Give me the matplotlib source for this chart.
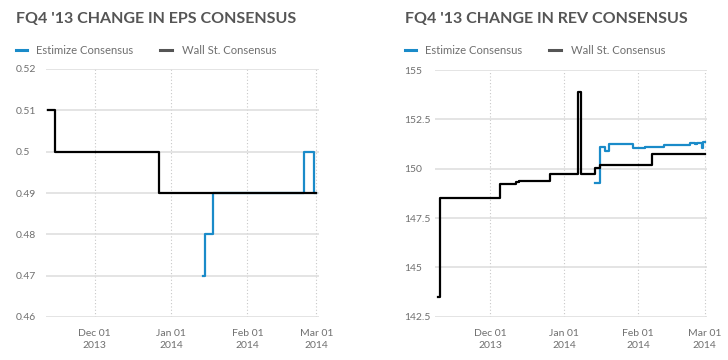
import pandas as pd
import matplotlib
matplotlib.use("Agg")
import matplotlib.pyplot as plt
import matplotlib.dates as mdates
from matplotlib.lines import Line2D

plt.rcParams['font.family'] = ['Lato', 'DejaVu Sans']

# --- Dados ---
eps_wall_dates = ['2013-11-12', '2013-11-15', '2013-12-27', '2014-03-01']
eps_wall_vals = [0.51, 0.50, 0.49, 0.49]

eps_est_dates = ['2014-01-14', '2014-01-15', '2014-01-18', '2014-02-24', '2014-02-28', '2014-03-01']
eps_est_vals = [0.47, 0.48, 0.49, 0.50, 0.49, 0.49]

rev_wall_dates = ['2013-11-09', '2013-11-10', '2013-12-05', '2013-12-12', '2013-12-13', '2013-12-26',
                  '2014-01-07', '2014-01-08', '2014-01-14', '2014-01-16', '2014-02-07', '2014-03-01']
rev_wall_vals = [143.5, 148.52, 149.24, 149.33, 149.39, 149.73,
                 153.86, 149.72, 150.04, 150.17, 150.74, 150.74]

rev_est_dates = ['2014-01-14', '2014-01-16', '2014-01-18', '2014-01-20', '2014-01-30', '2014-02-04',
                 '2014-02-12', '2014-02-23', '2014-02-25', '2014-02-26', '2014-02-28T00:00',
                 '2014-02-28T12:00', '2014-03-01']
rev_est_vals = [149.28, 151.11, 150.91, 151.25, 151.06, 151.10,
                151.18, 151.28, 151.24, 151.30, 151.03, 151.36, 151.36]

eps_ticks = [0.46, 0.47, 0.48, 0.49, 0.5, 0.51, 0.52]
eps_labels = ['0.46', '0.47', '0.48', '0.49', '0.5', '0.51', '0.52']
rev_ticks = [142.5, 145, 147.5, 150, 152.5, 155]
rev_labels = ['142.5', '145', '147.5', '150', '152.5', '155']

titles = ["FQ4 '13 CHANGE IN EPS CONSENSUS", "FQ4 '13 CHANGE IN REV CONSENSUS"]
legend_labels = ['Estimize Consensus', 'Wall St. Consensus']

BLUE = '#1a8bc9'
TXT = '#6f6f6f'
W, H = 728, 360

def to_dates(vals):
    return pd.to_datetime(vals, format='ISO8601')

fig = plt.figure(figsize=(W / 100, H / 100), dpi=100)

def setup_axis(rect, ticks, labels, xlim, ypad):
    ax = fig.add_axes(rect)
    for s in ax.spines.values():
        s.set_visible(False)
    ax.set_ylim(ticks[0], ticks[-1])
    ax.set_yticks(ticks)
    ax.set_yticklabels(labels)
    ax.set_xlim(pd.Timestamp(xlim[0]), pd.Timestamp(xlim[1]))
    ax.xaxis.set_major_locator(mdates.MonthLocator())
    ax.xaxis.set_major_formatter(mdates.DateFormatter('%b %d\n%Y'))
    ax.tick_params(axis='both', length=0, labelsize=7.5, labelcolor=TXT)
    ax.tick_params(axis='y', pad=ypad)
    ax.tick_params(axis='x', pad=8.5)
    for lab in ax.get_yticklabels():
        lab.set_horizontalalignment('left')
    for lab in ax.get_xticklabels():
        lab.set_linespacing(1.45)
    ax.grid(axis='y', color='#dcdcdc', linewidth=1.1, linestyle='-')
    ax.grid(axis='x', color='#c8c8c8', linewidth=0.8, linestyle=(0, (1, 2)))
    ax.set_axisbelow(True)
    return ax

ax1 = setup_axis([46 / W, 1 - 317 / H, 273 / W, 248 / H], eps_ticks, eps_labels,
                 ('2013-11-11 05:00', '2014-03-02 03:00'), 21.6)
ax2 = setup_axis([435 / W, 1 - 316.7 / H, 272.3 / W, 246.7 / H], rev_ticks, rev_labels,
                 ('2013-11-07 20:00', '2014-03-02 03:00'), 22.3)

ax1.step(to_dates(eps_est_dates), eps_est_vals, where='post', color=BLUE, lw=1.6, zorder=3)
ax1.step(to_dates(eps_wall_dates), eps_wall_vals, where='post', color='black', lw=1.6, zorder=4)

ax2.step(to_dates(rev_est_dates), rev_est_vals, where='post', color=BLUE, lw=1.6, zorder=3)
ax2.step(to_dates(rev_wall_dates), rev_wall_vals, where='post', color='black', lw=1.6, zorder=4)

# --- Títulos e legendas ---
for x0, title in zip([16, 404.7], titles):
    fig.text(x0 / W, 1 - 19 / H, title, fontsize=11.5, fontweight='bold', color='#555555',
             va='center', ha='left')
    ly = 1 - 50 / H
    fig.add_artist(Line2D([x0 / W, (x0 + 11) / W], [ly, ly], color=BLUE, lw=2.2))
    fig.text((x0 + 20) / W, ly, legend_labels[0], fontsize=8.1, color=TXT, va='center', ha='left')
    fig.add_artist(Line2D([(x0 + 144) / W, (x0 + 156) / W], [ly, ly], color='#555555', lw=2.2))
    fig.text((x0 + 166) / W, ly, legend_labels[1], fontsize=8.1, color=TXT, va='center', ha='left')

fig.savefig("out.png", dpi=100)
